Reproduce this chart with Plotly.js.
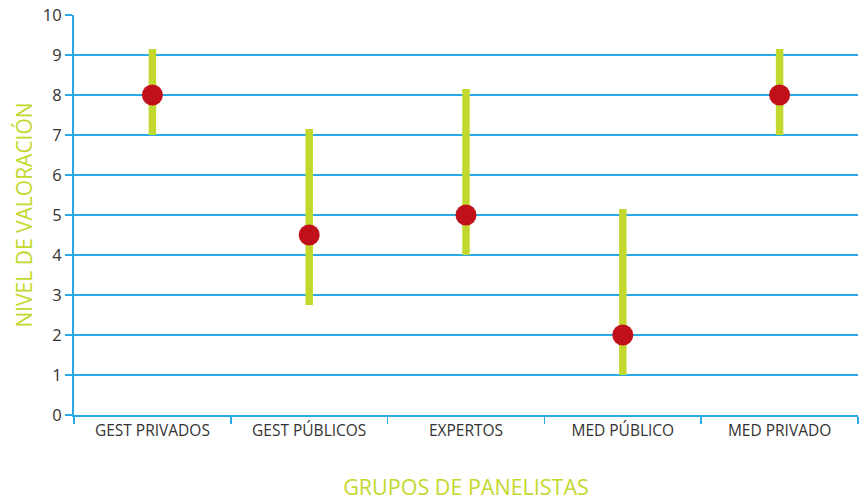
<!DOCTYPE html>
<html>
<head>
<meta charset="utf-8">
<script src="https://cdn.plot.ly/plotly-3.0.1.min.js"></script>
<style>html,body{margin:0;padding:0;background:#fff;}#chart{width:861px;height:501px;}</style>
</head>
<body>
<div id="chart"></div>
<script>
const categories = ["GEST PRIVADOS", "GEST PÚBLICOS", "EXPERTOS", "MED PÚBLICO", "MED PRIVADO"];
const lowValues = [7, 2.75, 4, 1, 7];
const highValues = [9.15, 7.15, 8.15, 5.15, 9.15];
const pointValues = [8, 4.5, 5, 2, 8];
const yTicks = [0, 1, 2, 3, 4, 5, 6, 7, 8, 9, 10];

const rx = [], ry = [];
categories.forEach((c, i) => { rx.push(c, c, null); ry.push(lowValues[i], highValues[i], null); });

const blue = "#2aaae2";
const green = "#c3d82e";

const data = [
  { type: "scatter", mode: "lines", x: rx, y: ry, line: { color: green, width: 7.5 }, hoverinfo: "skip", showlegend: false },
  { type: "scatter", mode: "markers", x: categories, y: pointValues, marker: { color: "#c0111a", size: 21 }, showlegend: false }
];

const layout = {
  width: 861, height: 501,
  margin: { l: 74, r: 3, t: 15, b: 86 },
  paper_bgcolor: "#fff", plot_bgcolor: "#fff",
  font: { family: "Open Sans, sans-serif", color: "#333" },
  xaxis: {
    type: "category",
    categoryorder: "array", categoryarray: categories,
    range: [-0.5, 4.5],
    tickson: "boundaries",
    ticks: "outside", ticklen: 7, tickcolor: blue, tickwidth: 1.5,
    showgrid: false,
    showline: true, linecolor: blue, linewidth: 2,
    tickfont: { size: 15.5, color: "#333", family: "Open Sans, sans-serif" },
    title: { text: "GRUPOS DE PANELISTAS", font: { size: 21.5, color: green, family: "Open Sans, sans-serif" }, standoff: 40 },
    zeroline: false, fixedrange: true
  },
  yaxis: {
    range: [0, 10],
    tickvals: yTicks,
    ticks: "outside", ticklen: 7, tickcolor: blue, tickwidth: 1.5,
    showgrid: true, gridcolor: blue, gridwidth: 1.5,
    showline: true, linecolor: blue, linewidth: 2,
    zeroline: false,
    tickfont: { size: 16.5, color: "#333", family: "Open Sans, sans-serif" },
    title: { text: "NIVEL DE VALORACIÓN", font: { size: 21, color: green, family: "Open Sans, sans-serif" }, standoff: 4 },
    fixedrange: true
  }
};

Plotly.newPlot("chart", data, layout, { displayModeBar: false, staticPlot: true });
</script>
</body>
</html>
